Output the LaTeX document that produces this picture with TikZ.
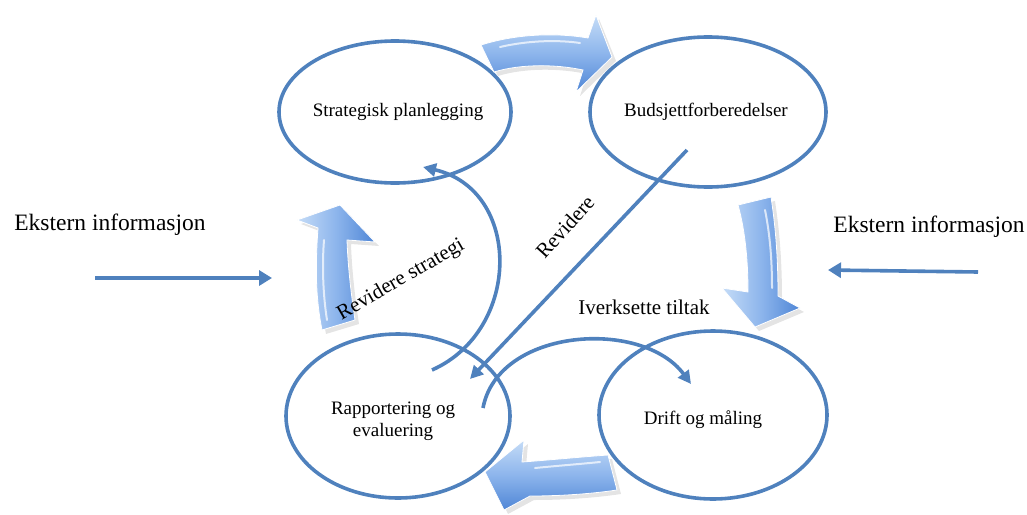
\documentclass[tikz,border=0pt]{standalone}
\usepackage{fontspec}
\setmainfont{Liberation Serif}
\usetikzlibrary{arrows.meta,shapes.geometric}
\definecolor{cyc}{HTML}{4F81BD}
\definecolor{blockL}{HTML}{C5DCF7}
\definecolor{blockM}{HTML}{8DB5EC}
\definecolor{blockD}{HTML}{4F86D6}
\tikzset{
  stage/.style={ellipse, draw=cyc, line width=3.6pt, inner sep=0pt, font=\fontsize{19}{22}\selectfont, align=center},
  flow/.style={draw=cyc, line width=3.6pt, -{Triangle[length=13pt,width=13pt]}},
  extarrow/.style={draw=cyc, line width=3.6pt, -{Triangle[length=13pt,width=15pt]}},
  lbl/.style={font=\fontsize{21}{24}\selectfont, inner sep=0pt},
  extlbl/.style={font=\fontsize{23.5}{26}\selectfont, inner sep=0pt},
  shadowfill/.style={fill=black!30, opacity=0.35},
}
\begin{document}
\begin{tikzpicture}[x=1pt,y=-1pt]
\useasboundingbox (0,0) rectangle (1027,514);

% ellipses
\node[stage, minimum width=232pt, minimum height=142pt] (sp) at (395,112) {};
\node[stage, minimum width=236pt, minimum height=150pt] (bf) at (708,112) {};
\node[stage, minimum width=224pt, minimum height=164pt] (re) at (398,416) {};
\node[stage, minimum width=228pt, minimum height=168pt] (dm) at (713,415) {};

\node[font=\fontsize{19}{22}\selectfont] at (398,112) {Strategisk planlegging};
\node[font=\fontsize{19}{22}\selectfont] at (706,112) {Budsjettforberedelser};
\node[font=\fontsize{19}{22}\selectfont, align=center] at (393,421) {Rapportering og\\evaluering};
\node[font=\fontsize{19}{22}\selectfont] at (703,420) {Drift og måling};

% block arrows: shadows
\fill[shadowfill] (484,49) .. controls (522,37) and (562,37) .. (591,42) -- (599,19) -- (616,61) -- (580,96) -- (587,74) .. controls (559,68) and (524,68) .. (498,76) -- cycle;
\fill[shadowfill] (742,209) -- (775,201) .. controls (780,234) and (782,264) .. (782,300) -- (804,312) -- (759,331) -- (726,292) -- (752,296) .. controls (752,264) and (749,234) .. (742,209);
\fill[shadowfill] (612,459) -- (621,494) .. controls (594,498) and (564,500) .. (534,500) -- (508,514) -- (489,476) -- (528,444) -- (526,466) .. controls (554,464) and (584,461) .. (612,459);
\fill[shadowfill] (326,334) .. controls (320,304) and (319,274) .. (322,232) -- (301,224) -- (344,209) -- (379,246) -- (351,244) .. controls (352,274) and (356,304) .. (359,324) -- cycle;

% block arrows
\shade[top color=blockL, bottom color=blockD, middle color=blockM, draw=white, line width=0.8pt]
  (481,45) .. controls (519,33) and (559,33) .. (588,38) -- (596,15) -- (612,57) -- (576,92) -- (583,70) .. controls (555,64) and (520,64) .. (494,72) -- cycle;
\shade[left color=blockL, right color=blockD, middle color=blockM, draw=white, line width=0.8pt]
  (738,205) -- (771,197) .. controls (776,230) and (778,260) .. (778,296) -- (800,308) -- (755,327) -- (722,288) -- (748,292) .. controls (748,260) and (745,230) .. (738,205);
\shade[top color=blockL, bottom color=blockD, middle color=blockM, draw=white, line width=0.8pt]
  (608,455) -- (617,490) .. controls (590,494) and (560,496) .. (530,496) -- (504,510) -- (485,472) -- (524,440) -- (522,462) .. controls (550,460) and (580,457) .. (608,455);
\shade[left color=blockL, right color=blockD, middle color=blockM, draw=white, line width=0.8pt]
  (322,330) .. controls (316,300) and (315,270) .. (318,228) -- (297,220) -- (340,205) -- (375,242) -- (347,240) .. controls (348,270) and (352,300) .. (355,320) -- cycle;
% highlights
\draw[white, opacity=0.7, line width=2pt, line cap=round] (500,47) .. controls (530,40) and (560,40) .. (580,43);
\draw[white, opacity=0.7, line width=2pt, line cap=round] (765,210) .. controls (770,235) and (772,260) .. (772,288);
\draw[white, opacity=0.7, line width=2pt, line cap=round] (600,462) .. controls (580,464) and (555,466) .. (535,468);
\draw[white, opacity=0.7, line width=2pt, line cap=round] (327,320) .. controls (323,295) and (322,265) .. (324,240);

% connectors (free ends)
\coordinate (rsA) at (432,370);
\coordinate (rsB) at (423,167);
\coordinate (rvA) at (687,150);
\coordinate (rvB) at (470,379);
\coordinate (itA) at (483,408);
\coordinate (itB) at (691,384);
\coordinate (elA) at (95,278);
\coordinate (elB) at (272,278);
\coordinate (erA) at (978,272);
\coordinate (erB) at (828,270);

\draw[flow] (rsA) .. controls (522,330) and (522,190) .. (rsB);
\draw[flow] (rvA) -- (rvB);
\draw[flow] (itA) .. controls (498,328) and (642,318) .. (itB);
\draw[extarrow] (elA) -- (elB);
\draw[extarrow] (erA) -- (erB);

% labels
\node[lbl, rotate=30] (lrs) at (401,280) {Revidere strategi};
\node[lbl, rotate=48] (lrv) at (565,227) {Revidere};
\node[lbl] (lit) at (644,307) {Iverksette tiltak};
\node[extlbl] (le1) at (110,225) {Ekstern informasjon};
\node[extlbl] (le2) at (929,227) {Ekstern informasjon};
\end{tikzpicture}
\end{document}
